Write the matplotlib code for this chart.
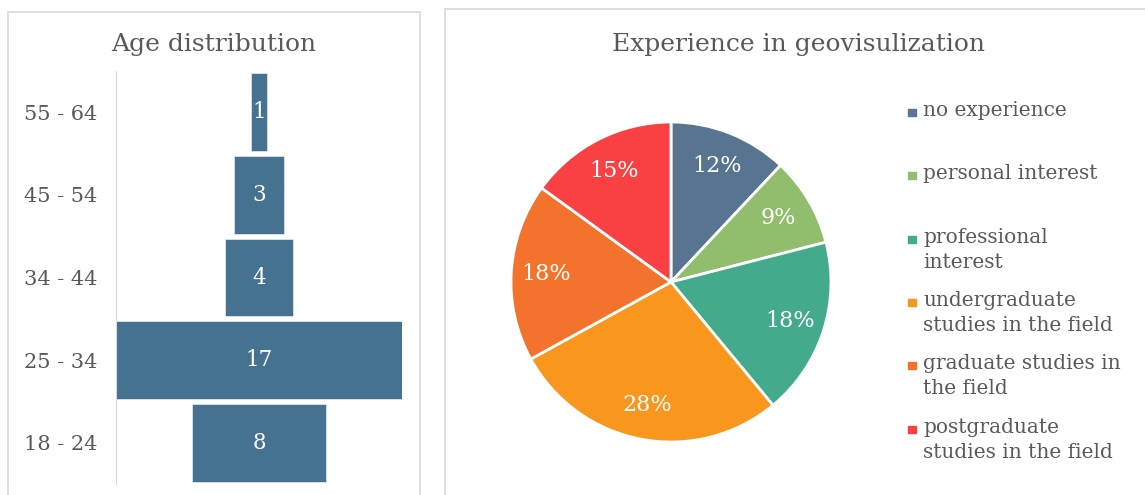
import numpy as np
import matplotlib
matplotlib.use("Agg")
import matplotlib.pyplot as plt
from matplotlib.patches import Rectangle

# age distribution (funnel)
age_groups = ["55 - 64", "45 - 54", "34 - 44", "25 - 34", "18 - 24"]
age_counts = [1, 3, 4, 17, 8]

# experience in geovisualization (pie)
exp_labels = ["no experience", "personal interest", "professional\ninterest",
              "undergraduate\nstudies in the field", "graduate studies in\nthe field",
              "postgraduate\nstudies in the field"]
exp_pct = [12, 9, 18, 28, 18, 15]
exp_colors = ["#577590", "#90BE6D", "#43AA8B", "#F8961E", "#F3722C", "#F94144"]

plt.rcParams['font.family'] = ['DejaVu Serif']
txt = "#595959"
W, H = 1145, 495

fig = plt.figure(figsize=(W / 100, H / 100), dpi=100)

def px(x0, y0, x1, y1):
    # pixel box (top-left origin) -> figure fraction rect
    return [x0 / W, 1 - y1 / H, (x1 - x0) / W, (y1 - y0) / H]

# panel frames
for x0, y0, x1 in [(8, 12, 420), (445, 9, 1160)]:
    fig.patches.append(Rectangle((x0 / W, -0.1), (x1 - x0) / W, 1.1 - y0 / H,
                                 transform=fig.transFigure, fill=False,
                                 edgecolor="#D9D9D9", linewidth=1.2))

# ---- funnel ----
ax1 = fig.add_axes(px(116, 71, 402, 484))
y = np.arange(len(age_groups))
counts = np.array(age_counts)
ax1.barh(y, counts, left=-counts / 2, height=0.94, color="#467292",
         edgecolor="#DCE4EC", linewidth=0.6)
for yi, c in zip(y, counts):
    ax1.text(0, yi, str(c), ha="center", va="center", color="white", fontsize=15.5)
ax1.set_xlim(-8.5, 8.5)
ax1.set_ylim(len(age_groups) - 0.5, -0.5)
ax1.set_yticks(y)
ax1.set_yticklabels(age_groups, fontsize=15, color=txt)
ax1.tick_params(axis="y", length=0, pad=13.5)
ax1.set_xticks([])
for s in ["top", "right", "bottom"]:
    ax1.spines[s].set_visible(False)
ax1.spines["left"].set_color("#D9D9D9")
fig.text(214 / W, 1 - 44 / H, "Age distribution", ha="center", va="center",
         fontsize=18, color=txt)

# ---- pie ----
cx, cy, r = 671, 282, 160
ax2 = fig.add_axes(px(cx - 1.25 * r, cy - 1.25 * r, cx + 1.25 * r, cy + 1.25 * r))
wedges, texts, autotexts = ax2.pie(exp_pct, colors=exp_colors, startangle=90,
                                   counterclock=False, autopct="%d%%", pctdistance=0.78,
                                   wedgeprops=dict(edgecolor="white", linewidth=2),
                                   textprops=dict(color="white", fontsize=16))
ax2.set_xlim(-1.25, 1.25)
ax2.set_ylim(-1.25, 1.25)
ax2.set_aspect("equal")
fig.text(799 / W, 1 - 45 / H, "Experience in geovisulization", ha="center", va="center",
         fontsize=18, color=txt)

# legend
ly = [112, 175, 239, 302, 365, 429]
for lab, col, yy in zip(exp_labels, exp_colors, ly):
    fig.patches.append(Rectangle((908 / W, 1 - (yy + 4) / H), 8 / W, 7 / H,
                                 transform=fig.transFigure, color=col))
    fig.text(923 / W, 1 - (yy - 11) / H, lab, ha="left", va="top", fontsize=14.5,
             color=txt, linespacing=1.42)

fig.savefig("out.png", dpi=100)
